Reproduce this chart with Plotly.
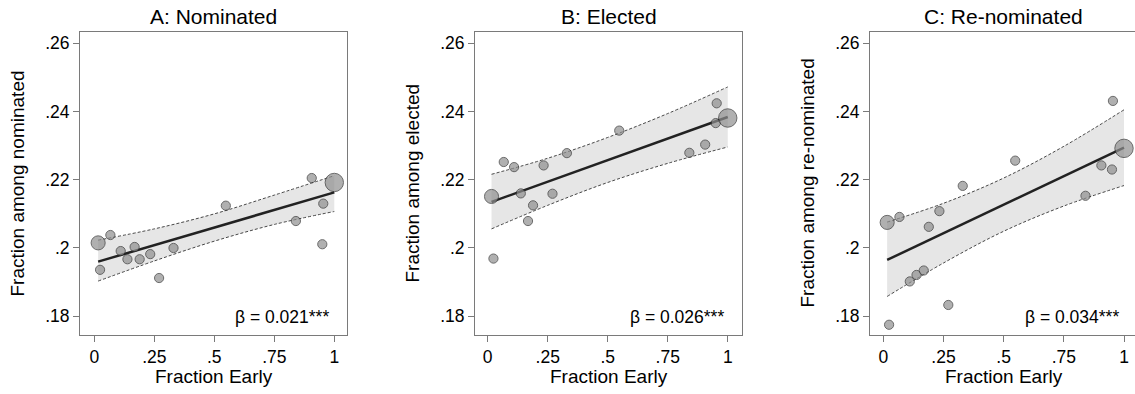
import math
import plotly.graph_objects as go

# Share of early groups (x) shared by all three panels
frac_early = [0.016, 0.024, 0.067, 0.110, 0.138, 0.168, 0.189, 0.233,
              0.270, 0.330, 0.548, 0.840, 0.906, 0.950, 0.954, 1.000]
# Relative weight of each group (drives marker area)
group_weight = [2.34, 1, 1, 1, 1, 1, 1, 1, 1, 1, 1, 1, 1, 1, 1, 4.0]

nominated = [0.2015, 0.1936, 0.2038, 0.1991, 0.1967, 0.2003, 0.1967, 0.1982,
             0.1912, 0.2000, 0.2124, 0.2079, 0.2205, 0.2011, 0.2130, 0.2192]
elected = [0.2151, 0.1969, 0.2252, 0.2237, 0.2160, 0.2079, 0.2125, 0.2242,
           0.2159, 0.2278, 0.2344, 0.2279, 0.2303, 0.2366, 0.2424, 0.2381]
renominated = [0.2075, 0.1775, 0.2091, 0.1902, 0.1921, 0.1934, 0.2062, 0.2108,
               0.1833, 0.2182, 0.2256, 0.2153, 0.2242, 0.2230, 0.2431, 0.2292]

# Linear fit end points and 95% confidence band
fit_x = [0.016, 1.0]
fit_nominated = [0.1960, 0.2163]
fit_elected = [0.2135, 0.2384]
fit_renominated = [0.1965, 0.2294]

band_x = [0.016, 0.25, 0.5, 0.75, 1.0]
upper_nominated = [0.2023, 0.2056, 0.2100, 0.2155, 0.2212]
lower_nominated = [0.1903, 0.1962, 0.2020, 0.2069, 0.2107]
upper_elected = [0.2216, 0.2263, 0.2324, 0.2394, 0.2472]
lower_elected = [0.2056, 0.2125, 0.2192, 0.2248, 0.2296]
upper_renominated = [0.2076, 0.2131, 0.2205, 0.2298, 0.2405]
lower_renominated = [0.1858, 0.1956, 0.2049, 0.2123, 0.2183]

panel_titles = ["A: Nominated", "B: Elected", "C: Re-nominated"]
y_titles = ["Fraction among nominated", "Fraction among elected",
            "Fraction among re-nominated"]
beta_labels = ["β = 0.021***", "β = 0.026***", "β = 0.034***"]

x_tick_vals = [0, 0.25, 0.5, 0.75, 1]
x_tick_text = ["0", ".25", ".5", ".75", "1"]
y_tick_vals = [0.18, 0.20, 0.22, 0.24, 0.26]
y_tick_text = [".18", ".2", ".22", ".24", ".26"]

W, H = 1135, 394
FONT = "Liberation Sans, Arial, sans-serif"
FRAME = "#7a7a7a"

# Plot-region pixel boxes (left, right) and x ranges for each panel
frames = [(80, 347), (475, 742), (870, 1135)]
x_ranges = [[-0.0596, 1.0529], [-0.0528, 1.0594], [-0.0553, 1.0457]]
top_px, bottom_px = 32, 335
y_range = [0.1745, 0.2633]

series = [
    (nominated, fit_nominated, upper_nominated, lower_nominated),
    (elected, fit_elected, upper_elected, lower_elected),
    (renominated, fit_renominated, upper_renominated, lower_renominated),
]

marker_sizes = [9.2 * math.sqrt(w) for w in group_weight]

fig = go.Figure()
layout = dict(
    width=W, height=H,
    margin=dict(l=0, r=0, t=0, b=0),
    paper_bgcolor="white", plot_bgcolor="white",
    showlegend=False,
    font=dict(family=FONT, color="black"),
)
annotations = []

ydom = [(H - bottom_px) / H, (H - top_px) / H]
band_line = dict(color="#333333", width=0.9, dash="3px,2px", shape="spline")

for i, (yvals, fit_y, up, lo) in enumerate(series):
    n = "" if i == 0 else str(i + 1)
    xa, ya = "x" + n, "y" + n
    left, right = frames[i]

    # confidence band: lower edge, then upper edge filled down to it
    fig.add_trace(go.Scatter(
        x=band_x, y=lo, xaxis=xa, yaxis=ya, mode="lines",
        line=band_line, hoverinfo="skip"))
    fig.add_trace(go.Scatter(
        x=band_x, y=up, xaxis=xa, yaxis=ya, mode="lines",
        line=band_line, fill="tonexty", fillcolor="#e6e6e6",
        hoverinfo="skip"))
    # fitted line
    fig.add_trace(go.Scatter(
        x=fit_x, y=fit_y, xaxis=xa, yaxis=ya, mode="lines",
        line=dict(color="#222222", width=2.5), hoverinfo="skip"))
    # group means
    fig.add_trace(go.Scatter(
        x=frac_early, y=yvals, xaxis=xa, yaxis=ya, mode="markers",
        marker=dict(size=marker_sizes, color="#8f8f8f",
                    line=dict(color="#2e2e2e", width=1))))

    layout["xaxis" + n] = dict(
        domain=[left / W, right / W], range=x_ranges[i], anchor=ya,
        tickvals=x_tick_vals, ticktext=x_tick_text,
        ticks="outside", ticklen=6, tickcolor=FRAME, tickwidth=1,
        showline=True, linecolor=FRAME, linewidth=1, mirror=True,
        showgrid=False, zeroline=False,
        tickfont=dict(size=17.5, family=FONT, color="black"))
    layout["yaxis" + n] = dict(
        domain=ydom, range=y_range, anchor=xa,
        tickvals=y_tick_vals, ticktext=y_tick_text,
        ticks="outside", ticklen=6, tickcolor=FRAME, tickwidth=1,
        showline=True, linecolor=FRAME, linewidth=1,
        mirror=(i < 2),
        showgrid=False, zeroline=False,
        tickfont=dict(size=17.5, family=FONT, color="black"))

    annotations.append(dict(
        text=panel_titles[i], xref="paper", yref="paper",
        x=(left + 267 / 2) / W, y=(H - 16) / H, xanchor="center", yanchor="middle",
        showarrow=False, font=dict(size=21, family=FONT, color="black")))
    annotations.append(dict(
        text="Fraction Early", xref="paper", yref="paper",
        x=(left + 267 / 2) / W, y=(H - 376.5) / H, xanchor="center",
        yanchor="middle", showarrow=False,
        font=dict(size=19, family=FONT, color="black")))
    annotations.append(dict(
        text=y_titles[i], xref="paper", yref="paper",
        x=(left - 63) / W, y=(H - (top_px + bottom_px) / 2) / H,
        xanchor="center", yanchor="middle", textangle=-90, showarrow=False,
        font=dict(size=19, family=FONT, color="black")))
    annotations.append(dict(
        text=beta_labels[i], xref="paper", yref="paper",
        x=(left + 251) / W, y=(H - 317.2) / H, xanchor="right",
        yanchor="middle", showarrow=False,
        font=dict(size=17.5, family=FONT, color="black")))

layout["annotations"] = annotations
fig.update_layout(**layout)
fig.write_html("out.html")
